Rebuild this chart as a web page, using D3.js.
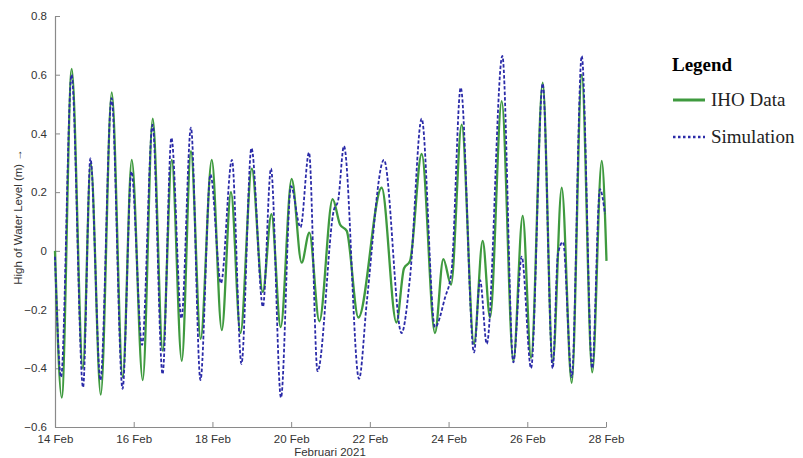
<!DOCTYPE html>
<html>
<head>
<meta charset="utf-8">
<script src="https://cdnjs.cloudflare.com/ajax/libs/d3/7.8.5/d3.min.js"></script>
<style>
  body { margin: 0; background: #fff; }
  svg { display: block; }
</style>
</head>
<body>
<div id="chart"></div>
<script>
// hours since 14 Feb 2021 00:00, and water level (m) at the turning points
var ihoHours = [0, 4.1, 10.2, 17, 21.8, 27.9, 34.6, 41.3, 46.8, 53.5, 59.6, 65.7, 71.2, 77.3, 82.9, 88.8,
  95.6, 101.7, 107.3, 113.1, 120, 126.7, 132, 137.6, 144.3, 150.4, 155.1, 161.2, 169.3, 173.8, 177.9, 185,
  199.2, 208.2, 212.8, 216.5, 223.6, 231.7, 236.8, 241.5, 248, 255.5, 260.8, 265.3, 272.4, 279.5, 285.2,
  290.3, 297.4, 303.5, 309, 315.1, 321.2, 327.6, 333.4, 336.3];
var ihoLevel = [0, -0.5, 0.62, -0.4, 0.3, -0.49, 0.54, -0.43, 0.31, -0.44, 0.45, -0.34, 0.31, -0.375, 0.34, -0.3,
  0.31, -0.27, 0.2, -0.28, 0.28, -0.14, 0.125, -0.26, 0.245, -0.04, 0.062, -0.24, 0.176, 0.09, 0.068, -0.227,
  0.215, -0.244, -0.06, -0.034, 0.33, -0.28, -0.028, -0.115, 0.43, -0.317, 0.034, -0.227, 0.51, -0.375, 0.119,
  -0.365, 0.573, -0.38, 0.215, -0.45, 0.6, -0.414, 0.306, -0.034];

var simHours = [0, 3.7, 10.1, 17.1, 21.6, 27.7, 34.5, 41.2, 46.6, 53.1, 59.5, 65.6, 71, 77.1, 82.9, 88.7,
  94.8, 101.2, 107.9, 113.7, 119.8, 126.8, 131.7, 137.8, 143.9, 149.7, 154.9, 160.1, 170.1, 172.6, 176.2,
  185.4, 190.2, 200.6, 211.3, 216.5, 223.6, 231.7, 237.8, 241.8, 247.4, 255.5, 259.2, 263.3, 272.8, 279.5,
  284.6, 290.3, 297.4, 303.5, 306.7, 309.8, 315.1, 321.2, 327.6, 332.3, 335.4];
var simLevel = [-0.02, -0.43, 0.6, -0.465, 0.315, -0.44, 0.52, -0.47, 0.27, -0.32, 0.43, -0.42, 0.385, -0.23, 0.42, -0.44,
  0.26, -0.11, 0.31, -0.385, 0.35, -0.19, 0.28, -0.5, 0.22, 0.08, 0.335, -0.41, 0.14, 0.17, 0.357,
  -0.436, -0.17, 0.31, -0.28, -0.09, 0.45, -0.26, -0.16, -0.07, 0.556, -0.346, -0.1, -0.317, 0.664, -0.38,
  -0.02, -0.4, 0.57, -0.4, -0.01, 0.03, -0.43, 0.664, -0.4, 0.21, 0.125];

var xTickHours = [0, 48, 96, 144, 192, 240, 288, 336];
var xTickLabels = ["14 Feb", "16 Feb", "18 Feb", "20 Feb", "22 Feb", "24 Feb", "26 Feb", "28 Feb"];
var yTicks = [-0.6, -0.4, -0.2, 0, 0.2, 0.4, 0.6, 0.8];

var seriesNames = ["IHO Data", "Simulation"];

var svgWidth = 803, svgHeight = 458;
var margin = { top: 16, right: 197, bottom: 31, left: 55 };
var chartWidth = 606 - margin.left;
var chartHeight = 427 - margin.top;

var svg = d3.select("#chart").append("svg")
  .attr("width", svgWidth)
  .attr("height", svgHeight);

var chart = svg.append("g")
  .attr("transform", "translate(" + margin.left + "," + margin.top + ")");

var x = d3.scaleLinear().domain([0, 336]).range([0, chartWidth]);
var y = d3.scaleLinear().domain([-0.6, 0.8]).range([chartHeight, 0]);

// axes, MATLAB style: ticks pointing inward, no box
var xAxis = chart.append("g")
  .attr("transform", "translate(0," + chartHeight + ")")
  .call(d3.axisBottom(x).tickValues(xTickHours)
    .tickFormat(function(d, i) { return xTickLabels[i]; })
    .tickSizeInner(-5).tickSizeOuter(0).tickPadding(8));

var yAxis = chart.append("g")
  .call(d3.axisLeft(y).tickValues(yTicks)
    .tickFormat(function(d) { return d === 0 ? "0" : d3.format(".1f")(d); })
    .tickSizeInner(-5).tickSizeOuter(0).tickPadding(8));

[xAxis, yAxis].forEach(function(ax) {
  ax.select(".domain").attr("stroke", "#8a8a8a").attr("stroke-width", 1.2);
  ax.selectAll(".tick line").attr("stroke", "#8a8a8a");
  ax.selectAll("text")
    .attr("fill", "#333")
    .style("font-family", "'Liberation Sans', Arial, sans-serif")
    .style("font-size", "11.5px");
});

var line = d3.line()
  .x(function(d) { return x(d[0]); })
  .y(function(d) { return y(d[1]); })
  .curve(d3.curveMonotoneX);

var ihoData = ihoHours.map(function(h, i) { return [h, ihoLevel[i]]; });
var simData = simHours.map(function(h, i) { return [h, simLevel[i]]; });

chart.append("path")
  .datum(ihoData)
  .attr("fill", "none")
  .attr("stroke", "#3f9a3f")
  .attr("stroke-width", 2.3)
  .attr("d", line);

chart.append("path")
  .datum(simData)
  .attr("fill", "none")
  .attr("stroke", "#2a2aa8")
  .attr("stroke-width", 1.8)
  .attr("stroke-dasharray", "3.5,2")
  .attr("d", line);

// axis titles
svg.append("text")
  .attr("x", 330)
  .attr("y", 456)
  .attr("text-anchor", "middle")
  .attr("fill", "#333")
  .style("font-family", "'Liberation Sans', Arial, sans-serif")
  .style("font-size", "11.5px")
  .text("Februari 2021");

svg.append("text")
  .attr("transform", "translate(22,217) rotate(-90)")
  .attr("text-anchor", "middle")
  .attr("fill", "#333")
  .style("font-family", "'Liberation Sans', Arial, sans-serif")
  .style("font-size", "11.5px")
  .text("High of Water Level (m) \u2192");

// legend
var legend = svg.append("g").attr("transform", "translate(672,0)");
legend.append("text")
  .attr("x", 0).attr("y", 71)
  .style("font-family", "'Liberation Serif', 'Times New Roman', serif")
  .style("font-size", "19px")
  .style("font-weight", "bold")
  .text("Legend");

var legendStyles = [
  { stroke: "#3f9a3f", width: 3, dash: null, y: 100 },
  { stroke: "#2a2aa8", width: 2.5, dash: "2.5,2.5", y: 137 }
];
seriesNames.forEach(function(name, i) {
  var s = legendStyles[i];
  legend.append("line")
    .attr("x1", 1).attr("x2", 33)
    .attr("y1", s.y).attr("y2", s.y)
    .attr("stroke", s.stroke)
    .attr("stroke-width", s.width)
    .attr("stroke-dasharray", s.dash);
  legend.append("text")
    .attr("x", 39).attr("y", s.y + 6)
    .style("font-family", "'Liberation Serif', 'Times New Roman', serif")
    .style("font-size", "19px")
    .attr("fill", "#222")
    .text(name);
});
</script>
</body>
</html>
